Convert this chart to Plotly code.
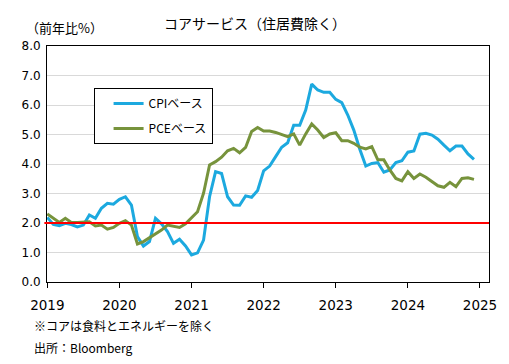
import plotly.graph_objects as go

months = [f"{y}-{m:02d}" for y in range(2019, 2025) for m in range(1, 13)]

cpi = [2.19, 1.95, 1.91, 1.99, 1.95, 1.87, 1.93, 2.27, 2.16, 2.50, 2.67, 2.64,
       2.80, 2.89, 2.61, 1.54, 1.22, 1.37, 2.16, 1.97, 1.71, 1.31, 1.45, 1.22,
       0.92, 0.99, 1.42, 2.89, 3.74, 3.68, 2.89, 2.61, 2.60, 2.92, 2.87, 3.10,
       3.77, 3.93, 4.25, 4.57, 4.72, 5.31, 5.31, 5.83, 6.71, 6.51, 6.43, 6.43,
       6.19, 6.08, 5.66, 5.15, 4.50, 3.93, 4.02, 4.05, 3.72, 3.80, 4.05, 4.11,
       4.40, 4.44, 5.01, 5.04, 4.98, 4.84, 4.64, 4.45, 4.61, 4.61, 4.34, 4.16]

pce = [2.31, 2.16, 2.02, 2.16, 2.02, 2.02, 2.02, 2.04, 1.90, 1.93, 1.79, 1.85,
       1.99, 2.08, 1.93, 1.29, 1.37, 1.50, 1.65, 1.76, 1.93, 1.90, 1.85, 1.97,
       2.16, 2.38, 3.01, 3.97, 4.08, 4.23, 4.45, 4.53, 4.38, 4.56, 5.10, 5.24,
       5.12, 5.12, 5.07, 5.01, 4.93, 5.02, 4.64, 5.02, 5.36, 5.15, 4.90, 5.02,
       5.06, 4.79, 4.79, 4.70, 4.57, 4.51, 4.59, 4.14, 4.14, 3.80, 3.51, 3.43,
       3.74, 3.51, 3.66, 3.55, 3.40, 3.26, 3.21, 3.38, 3.23, 3.51, 3.53, 3.48]

year_labels = ["2019", "2020", "2021", "2022", "2023", "2024", "2025"]
target = 2.0

FONT = "Noto Sans CJK JP"
NUMFONT = "DejaVu Sans, Noto Sans CJK JP"
x_idx = list(range(len(months)))
tick_pos = [12 * i for i in range(len(year_labels))]

# page body has an 8px margin; figure is sized so the plot lands where the reference has it
W, H = 501, 356
L, R, T, B = 39, 16, 38, 82
PW, PH = W - L - R, H - T - B

fig = go.Figure()
fig.add_trace(go.Scatter(x=x_idx, y=cpi, mode="lines", name="CPIベース",
                         line=dict(color="#1CA9DF", width=3), legendgroup="a",
                         customdata=months))
fig.add_trace(go.Scatter(x=x_idx, y=pce, mode="lines", name="PCEベース",
                         line=dict(color="#77933C", width=3), legendgroup="b",
                         customdata=months))
fig.add_shape(type="line", xref="paper", yref="y", x0=-0.006, x1=1, y0=target, y1=target,
              line=dict(color="#FF0000", width=2))

fig.update_layout(
    width=W, height=H,
    margin=dict(l=L, r=R, t=T, b=B),
    paper_bgcolor="white", plot_bgcolor="white",
    font=dict(family=FONT, color="#000000", size=13),
    title=dict(text="コアサービス（住居費除く）", x=(255 - 8) / W, xanchor="center",
               y=1 - 16 / H, yanchor="middle", font=dict(size=14, family=FONT)),
    showlegend=True,
    legend=dict(x=(94 - 47) / PW, y=1 - (88 - 46) / PH, xanchor="left", yanchor="top",
                bordercolor="#000000", borderwidth=1, bgcolor="white",
                font=dict(size=12, family=FONT), tracegroupgap=6,
                itemwidth=30, indentation=14),
    xaxis=dict(range=[-0.05, 73.5], tickmode="array", tickvals=tick_pos,
               ticktext=year_labels, ticks="outside", ticklen=5, tickcolor="#000",
               showline=True, linecolor="#000", linewidth=1, mirror=True,
               showgrid=False, zeroline=False, ticklabelstandoff=6,
               tickfont=dict(size=13.5, family=NUMFONT)),
    yaxis=dict(range=[0, 8], dtick=1, tickformat=".1f", showgrid=True,
               gridcolor="#D9D9D9", gridwidth=1, showline=True, linecolor="#000",
               linewidth=1, mirror=True, zeroline=False, ticks="", ticklabelstandoff=3,
               tickfont=dict(size=12, family=NUMFONT)),
)

fig.add_annotation(text="（前年比%）", xref="paper", yref="paper", x=(16 - L) / PW,
                   y=1 - (27 - 46) / PH, xanchor="left", yanchor="middle",
                   showarrow=False, font=dict(size=13, family=FONT))
fig.add_annotation(text="※コアは食料とエネルギーを除く", xref="paper", yref="paper",
                   x=(24 - L) / PW, y=(282 - 325) / PH, xanchor="left", yanchor="middle",
                   showarrow=False, font=dict(size=12, family=FONT))
fig.add_annotation(text="出所：Bloomberg", xref="paper", yref="paper",
                   x=(24 - L) / PW, y=(282 - 347) / PH, xanchor="left", yanchor="middle",
                   showarrow=False, font=dict(size=12, family=FONT))

fig.write_html("out.html")
